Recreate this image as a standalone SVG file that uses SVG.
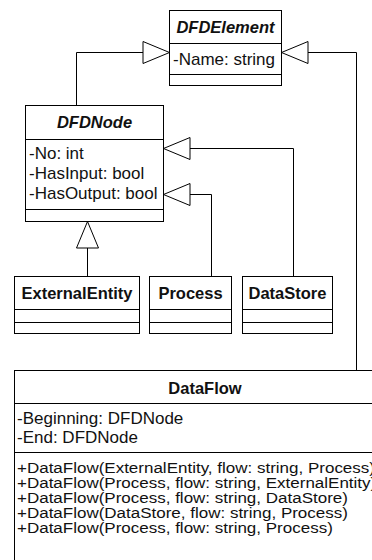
<svg xmlns="http://www.w3.org/2000/svg" width="372" height="560" viewBox="0 0 372 560">
  <defs>
    <style>
      .box { fill: #ffffff; stroke: #000000; stroke-width: 1; }
      .sep { stroke: #000000; stroke-width: 1; fill: none; }
      .edge { stroke: #000000; stroke-width: 1; fill: none; }
      .gen { fill: #ffffff; stroke: #000000; stroke-width: 1; }
      text { font-family: "Liberation Sans", Arial, sans-serif; font-size: 17px; fill: #111111; }
      .title { font-size: 16.5px; font-weight: bold; text-anchor: middle; }
      .abstract { font-size: 16.5px; font-weight: bold; font-style: italic; text-anchor: middle; }
    </style>
  </defs>
  <rect width="372" height="560" fill="#ffffff"/>

  <!-- generalization connectors -->
  <g id="connectors">
    <!-- DFDNode -> DFDElement -->
    <polyline class="edge" points="76.5,105 76.5,52.5 143,52.5"/>
    <polygon class="gen" points="143,41.5 169.5,52.5 143,63.5"/>
    <!-- DataFlow -> DFDElement -->
    <polyline class="edge" points="356.5,370 356.5,52.5 308,52.5"/>
    <polygon class="gen" points="308,41.5 281.5,52.5 308,63.5"/>
    <!-- DataStore -> DFDNode -->
    <polyline class="edge" points="293.5,276 293.5,148.5 190,148.5"/>
    <polygon class="gen" points="190,137.5 163.5,148.5 190,159.5"/>
    <!-- Process -> DFDNode -->
    <polyline class="edge" points="211.5,276 211.5,194.5 190,194.5"/>
    <polygon class="gen" points="190,183.5 163.5,194.5 190,205.5"/>
    <!-- ExternalEntity -> DFDNode -->
    <line class="edge" x1="87.5" y1="276" x2="87.5" y2="248"/>
    <polygon class="gen" points="76.5,248 87.5,221.5 98.5,248"/>
  </g>

  <g id="DFDElement">
    <rect class="box" x="169.5" y="10.5" width="112" height="75"/>
    <line class="sep" x1="169.5" y1="43.5" x2="281.5" y2="43.5"/>
    <line class="sep" x1="169.5" y1="74.5" x2="281.5" y2="74.5"/>
    <text class="abstract" x="225.5" y="33">DFDElement</text>
    <text x="173" y="64.5">-Name: string</text>
  </g>

  <g id="DFDNode">
    <rect class="box" x="25.5" y="105.5" width="138" height="116"/>
    <line class="sep" x1="25.5" y1="139.5" x2="163.5" y2="139.5"/>
    <line class="sep" x1="25.5" y1="209.5" x2="163.5" y2="209.5"/>
    <text class="abstract" x="94.5" y="128">DFDNode</text>
    <text x="29" y="158.5">-No: int</text>
    <text x="29" y="178.5">-HasInput: bool</text>
    <text x="29" y="198.5">-HasOutput: bool</text>
  </g>

  <g id="ExternalEntity">
    <rect class="box" x="14.5" y="276.5" width="125" height="57"/>
    <line class="sep" x1="14.5" y1="309.5" x2="139.5" y2="309.5"/>
    <line class="sep" x1="14.5" y1="322.5" x2="139.5" y2="322.5"/>
    <text class="title" x="77" y="299">ExternalEntity</text>
  </g>

  <g id="Process">
    <rect class="box" x="149.5" y="276.5" width="82" height="57"/>
    <line class="sep" x1="149.5" y1="309.5" x2="231.5" y2="309.5"/>
    <line class="sep" x1="149.5" y1="322.5" x2="231.5" y2="322.5"/>
    <text class="title" x="190.5" y="299">Process</text>
  </g>

  <g id="DataStore">
    <rect class="box" x="242.5" y="276.5" width="90" height="57"/>
    <line class="sep" x1="242.5" y1="309.5" x2="332.5" y2="309.5"/>
    <line class="sep" x1="242.5" y1="322.5" x2="332.5" y2="322.5"/>
    <text class="title" x="287.5" y="299">DataStore</text>
  </g>

  <g id="DataFlow">
    <rect class="box" x="14.5" y="370.5" width="400" height="220"/>
    <line class="sep" x1="14.5" y1="403.5" x2="414.5" y2="403.5"/>
    <line class="sep" x1="14.5" y1="452.5" x2="414.5" y2="452.5"/>
    <text class="title" x="205" y="393.5">DataFlow</text>
    <text x="17" y="424">-Beginning: DFDNode</text>
    <text x="17" y="443">-End: DFDNode</text>
    <!-- operations: tightly stacked rows, glyphs slightly flattened -->
    <g transform="translate(17,473) scale(1,0.87)"><text x="0" y="0">+DataFlow(ExternalEntity, flow: string, Process)</text></g>
    <g transform="translate(17,488) scale(1,0.87)"><text x="0" y="0">+DataFlow(Process, flow: string, ExternalEntity)</text></g>
    <g transform="translate(17,503) scale(1,0.87)"><text x="0" y="0">+DataFlow(Process, flow: string, DataStore)</text></g>
    <g transform="translate(17,518) scale(1,0.87)"><text x="0" y="0">+DataFlow(DataStore, flow: string, Process)</text></g>
    <g transform="translate(17,533) scale(1,0.87)"><text x="0" y="0">+DataFlow(Process, flow: string, Process)</text></g>
  </g>
</svg>
